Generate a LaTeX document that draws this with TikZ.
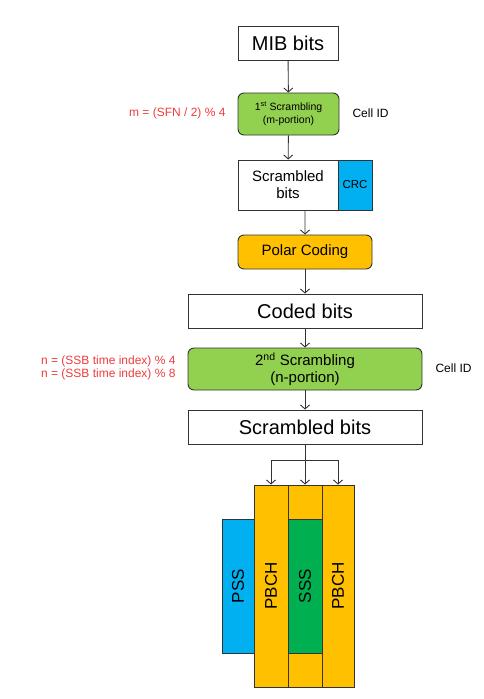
\documentclass[tikz,border=0pt]{standalone}
\usepackage{fontspec}
\setmainfont{Liberation Sans}
\usetikzlibrary{arrows.meta,calc}
\definecolor{lgreen}{HTML}{92D050}
\definecolor{orng}{HTML}{FFC000}
\definecolor{cyanb}{HTML}{00B0F0}
\definecolor{dgreen}{HTML}{00B050}
\definecolor{redt}{HTML}{F03C3C}
\definecolor{edge}{HTML}{333333}
\tikzset{
  box/.style={draw=edge, line width=0.9pt, fill=white, inner sep=0pt, align=center},
  rbox/.style={box, rounded corners=6pt},
  col/.style={draw=edge, line width=0.9pt, inner sep=0pt, minimum width=34pt, minimum height=202pt},
  arr/.style={draw=edge, line width=0.9pt, -{Straight Barb[length=4pt,width=9pt]}},
  ln/.style={draw=edge, line width=0.9pt},
  note/.style={font=\fontsize{12}{13}\selectfont, align=right},
}
\begin{document}
\begin{tikzpicture}[x=1pt,y=-1pt]
\useasboundingbox (0,0) rectangle (484,699);
\node[box, minimum width=100pt, minimum height=34pt, font=\fontsize{20}{22}\selectfont] (mib) at (288,43) {MIB bits};
\node[rbox, fill=lgreen, minimum width=101pt, minimum height=42pt, font=\fontsize{10.5}{13}\selectfont] (scr1) at (288.5,114) {1\textsuperscript{st} Scrambling\\(m-portion)};
\node[box, minimum width=100pt, minimum height=50pt, font=\fontsize{15}{17}\selectfont] (sb) at (288,185) {Scrambled\\bits};
\node[box, fill=cyanb, minimum width=34pt, minimum height=50pt, font=\fontsize{11.5}{12}\selectfont] (crc) at (355,185) {CRC};
\node[rbox, fill=orng, minimum width=134pt, minimum height=34pt, font=\fontsize{15}{17}\selectfont] (polar) at (305,252) {Polar Coding};
\node[box, minimum width=234pt, minimum height=34pt, font=\fontsize{20}{22}\selectfont] (coded) at (305,311) {Coded bits};
\node[rbox, fill=lgreen, minimum width=234pt, minimum height=42pt, font=\fontsize{15}{17}\selectfont] (scr2) at (305,369) {2\textsuperscript{nd} Scrambling\\(n-portion)};
\node[box, minimum width=234pt, minimum height=34pt, font=\fontsize{20}{22}\selectfont] (sb2) at (305,427) {Scrambled bits};

\node[note, text=redt, anchor=east] (mlab) at (229,113) {m = (SFN / 2) \% 4};
\node[note, anchor=west] (cell1) at (349,113) {Cell ID};
\node[note, text=redt, anchor=east] (nlab) at (179,368) {n = (SSB time index) \% 4\\n = (SSB time index) \% 8};
\node[note, anchor=west] (cell2) at (432,368) {Cell ID};

\node[col, fill=cyanb, minimum width=32pt, minimum height=134pt] (pss) at (238,586) {\rotatebox{90}{\fontsize{17}{20}\selectfont PSS}};
\node[col, fill=orng] (p1) at (271,586) {\rotatebox{90}{\fontsize{17}{20}\selectfont PBCH}};
\node[col, fill=orng] (mid) at (305,586) {};
\node[col, fill=dgreen, minimum height=134pt] (sss) at (305,586) {\rotatebox{90}{\fontsize{17}{20}\selectfont SSS}};
\node[col, fill=orng, minimum width=32pt] (p2) at (338,586) {\rotatebox{90}{\fontsize{17}{20}\selectfont PBCH}};

\draw[arr] (mib) -- (scr1);
\draw[arr] (scr1) -- (sb);
\coordinate (sbc) at ($(sb.south west)!0.5!(crc.south east)$);
\draw[arr] (sbc) -- (polar.north);
\draw[arr] (polar) -- (coded);
\draw[arr] (coded) -- (scr2);
\draw[arr] (scr2) -- (sb2);
\coordinate (split) at (305,460);
\draw[arr] (sb2.south) -- (mid.north);
\draw[ln] (p1.north |- split) -- (p2.north |- split);
\draw[arr] (p1.north |- split) -- (p1.north);
\draw[arr] (p2.north |- split) -- (p2.north);
\end{tikzpicture}
\end{document}
